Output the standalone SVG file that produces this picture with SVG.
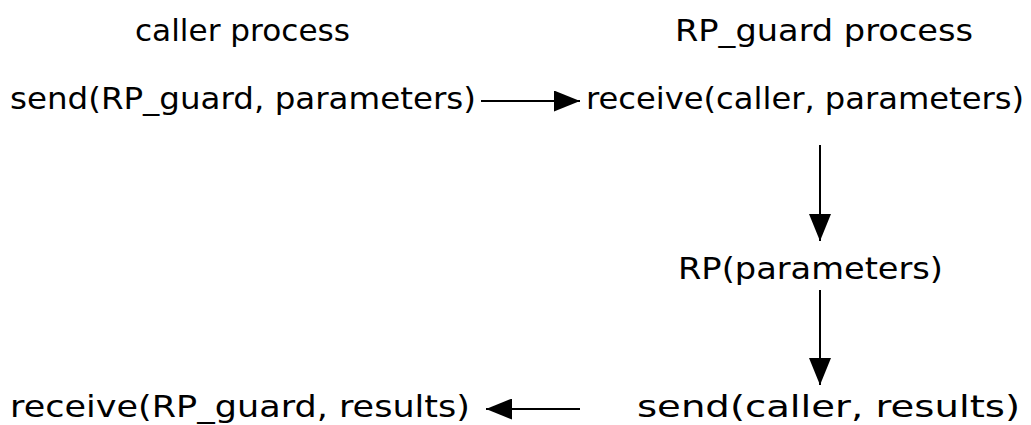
<svg xmlns="http://www.w3.org/2000/svg" width="1031" height="425" viewBox="0 0 1031 425">
<style>
.t{font-family:"DejaVu Sans","Liberation Sans",sans-serif;font-size:31px;fill:#000}
.c{stroke:#000;stroke-width:2;fill:none}
</style>
<defs>
<marker id="ah" viewBox="0 0 10 10" refX="10" refY="5" markerWidth="26" markerHeight="21" markerUnits="userSpaceOnUse" orient="auto" preserveAspectRatio="none">
<path d="M0,0 L10,5 L0,10 z" fill="#000"/>
</marker>
<marker id="av" viewBox="0 0 10 10" refX="10" refY="5" markerWidth="27" markerHeight="22" markerUnits="userSpaceOnUse" orient="auto" preserveAspectRatio="none">
<path d="M0,0 L10,5 L0,10 z" fill="#000"/>
</marker>
</defs>
<g id="caller-title"><text class="t" x="135" y="41" textLength="215" lengthAdjust="spacingAndGlyphs">caller  process</text></g>
<g id="guard-title"><text class="t" x="675" y="41" textLength="298" lengthAdjust="spacingAndGlyphs">RP_guard  process</text></g>
<g id="send1"><text class="t" x="10" y="109" textLength="466" lengthAdjust="spacingAndGlyphs">send(RP_guard, parameters)</text></g>
<g id="receive1"><text class="t" x="586" y="109" textLength="438" lengthAdjust="spacingAndGlyphs">receive(caller, parameters)</text></g>
<g id="rp"><text class="t" x="678" y="279" textLength="265" lengthAdjust="spacingAndGlyphs">RP(parameters)</text></g>
<g id="send2"><text class="t" x="637" y="417" textLength="383" lengthAdjust="spacingAndGlyphs">send(caller, results)</text></g>
<g id="receive2"><text class="t" x="10" y="417" textLength="460" lengthAdjust="spacingAndGlyphs">receive(RP_guard, results)</text></g>
<g id="connectors">
<path class="c" d="M481,101 L580,101" marker-end="url(#ah)"/>
<path class="c" d="M820,145 L820,241" marker-end="url(#av)"/>
<path class="c" d="M820,290 L820,385" marker-end="url(#av)"/>
<path class="c" d="M580,409 L486,409" marker-end="url(#ah)"/>
</g>
</svg>
